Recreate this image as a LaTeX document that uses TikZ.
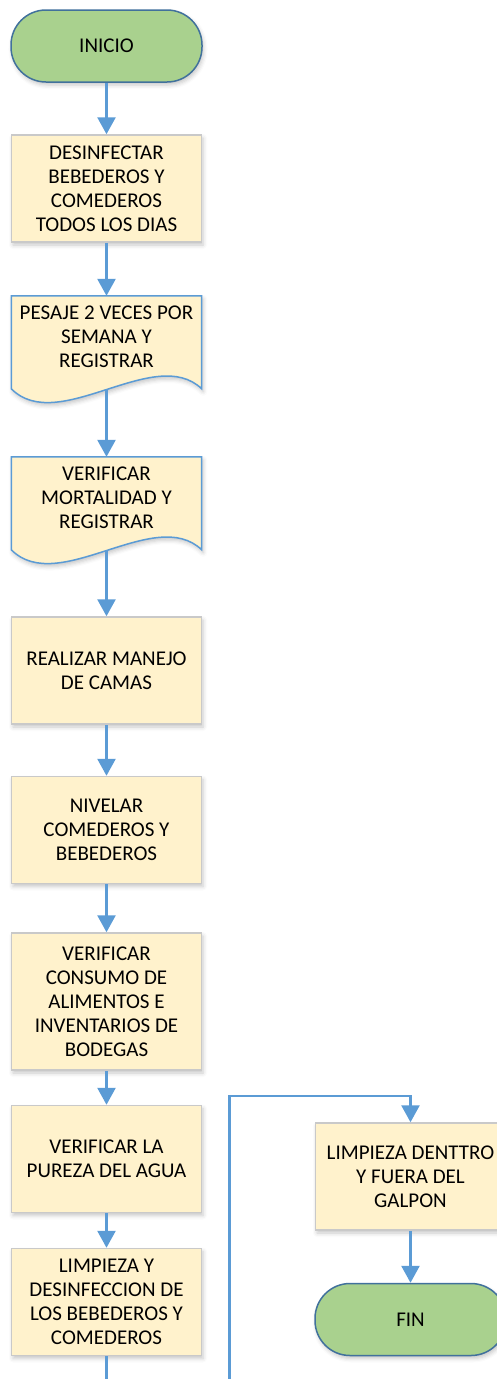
\documentclass[tikz,border=0pt]{standalone}
\usepackage{fontspec}
\setmainfont{Carlito}
\usetikzlibrary{arrows.meta,shadows.blur,calc}
\definecolor{flowblue}{HTML}{5B9BD5}
\definecolor{boxfill}{HTML}{FFF2CC}
\definecolor{boxgray}{HTML}{C9C9C9}
\definecolor{termfill}{HTML}{A9D18E}
\definecolor{termedge}{HTML}{41719C}
\begin{document}
\begin{tikzpicture}[x=1pt,y=-1pt,
  font=\fontsize{21}{24}\selectfont,
  softshadow/.style={blur shadow={shadow xshift=1.5pt,shadow yshift=-3pt,shadow blur radius=4pt,shadow opacity=22}},
  procbox/.style={draw=boxgray,line width=1.5pt,fill=boxfill,minimum width=190pt,
    minimum height=107pt,align=center,inner sep=0pt,softshadow},
  doctext/.style={minimum width=190pt,minimum height=82pt,align=center,inner sep=0pt},
  docedge/.style={draw=flowblue,line width=1.5pt,fill=boxfill},
  terminal/.style={draw=termedge,line width=1.5pt,fill=termfill,rounded corners=35pt,
    minimum width=191pt,minimum height=72pt,inner sep=0pt,softshadow},
  flow/.style={draw=flowblue,line width=2.6pt,-{Triangle[width=18pt,length=17pt]}}]
\useasboundingbox (0,0) rectangle (496,1379);

% start
\node[terminal] (start) at (106.5,46) {INICIO};

% first task
\node[procbox] (b1) at (106.5,188.5) {DESINFECTAR\\BEBEDEROS Y\\COMEDEROS\\TODOS LOS DIAS};

% document-shaped tasks (text node plus wavy outline)
\node[doctext] (b2) at (106.5,337) {};
\path[docedge,softshadow] (b2.north west) -- (b2.north east) -- ($(b2.north east)+(0,93)$)
  .. controls ($(b2.north east)+(-47,48)$) and ($(b2.north west)+(47,140)$) .. ($(b2.north west)+(0,93)$) -- cycle;
\node[doctext] at (b2) {PESAJE 2 VECES POR\\SEMANA Y\\REGISTRAR};
\coordinate (b2w) at ($(b2.north)+(0,93)$);

\node[doctext] (b3) at (106.5,498) {};
\path[docedge,softshadow] (b3.north west) -- (b3.north east) -- ($(b3.north east)+(0,93)$)
  .. controls ($(b3.north east)+(-47,48)$) and ($(b3.north west)+(47,140)$) .. ($(b3.north west)+(0,93)$) -- cycle;
\node[doctext] at (b3) {VERIFICAR\\MORTALIDAD Y\\REGISTRAR};
\coordinate (b3w) at ($(b3.north)+(0,93)$);

% remaining tasks
\node[procbox] (b4) at (106.5,670.5) {REALIZAR MANEJO\\DE CAMAS};
\node[procbox] (b5) at (106.5,830) {NIVELAR\\COMEDEROS Y\\BEBEDEROS};
\node[procbox,minimum height=137pt] (b6) at (106.5,1001.5) {VERIFICAR\\CONSUMO DE\\ALIMENTOS E\\INVENTARIOS DE\\BODEGAS};
\node[procbox] (b7) at (106.5,1159) {VERIFICAR LA\\PUREZA DEL AGUA};
\node[procbox] (b8) at (106.5,1302) {LIMPIEZA Y\\DESINFECCION DE\\LOS BEBEDEROS Y\\COMEDEROS};

% second column
\node[procbox] (b9) at (410.5,1176.5) {LIMPIEZA DENTTRO\\Y FUERA DEL\\GALPON};
\node[terminal] (end) at (410.5,1319.5) {FIN};

% connectors
\draw[flow] (start) -- (b1);
\draw[flow] (b1) -- (b2.north);
\draw[flow] (b2w) -- (b3.north);
\draw[flow] (b3w) -- (b4);
\draw[flow] (b4) -- (b5);
\draw[flow] (b5) -- (b6);
\draw[flow] (b6) -- (b7);
\draw[flow] (b7) -- (b8);
\coordinate (loopturn) at (229.5,1096);
\draw[flow] (b8.south) -- ++(0,40) -| (loopturn) -| (b9.north);
\draw[flow] (b9) -- (end);
\end{tikzpicture}
\end{document}
